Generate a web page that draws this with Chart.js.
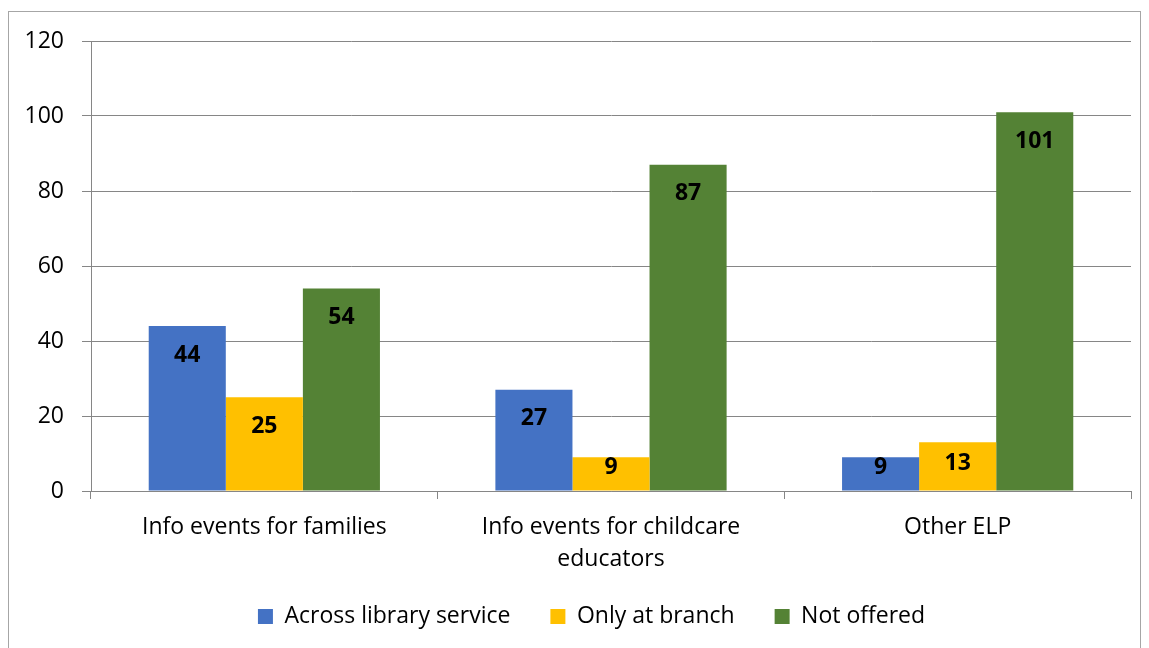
<!DOCTYPE html>
<html>
<head>
<meta charset="utf-8">
<script src="https://cdn.jsdelivr.net/npm/chart.js@4"></script>
<style>
  body { margin: 0; background: #fff; }
  #frame { position: absolute; left: 8px; top: 11px; width: 1133px; height: 660px; border: 1px solid #a6a6a6; box-sizing: border-box; }
  #wrap { position: absolute; left: 0; top: 0; width: 1149px; height: 648px; }
</style>
</head>
<body>
<div id="frame"></div>
<div id="wrap"><canvas id="myChart"></canvas></div>
<script>
const categories = ['Info events for families', ['Info events for childcare', 'educators'], 'Other ELP'];
const acrossLibrary = [44, 27, 9];
const onlyAtBranch = [25, 9, 13];
const notOffered = [54, 87, 101];
const yTicks = [0, 20, 40, 60, 80, 100, 120];

const FONT = '"Open Sans", Calibri, sans-serif';

// value labels sit just inside the top of each bar
const barLabels = {
  id: 'barLabels',
  afterDatasetsDraw(chart) {
    const ctx = chart.ctx;
    ctx.save();
    ctx.font = 'bold 23px ' + FONT;
    ctx.fillStyle = '#000';
    ctx.textAlign = 'center';
    ctx.textBaseline = 'middle';
    chart.data.datasets.forEach((ds, i) => {
      chart.getDatasetMeta(i).data.forEach((bar, j) => {
        const { x, y, base } = bar.getProps(['x', 'y', 'base'], true);
        const ty = Math.max(y + 10, Math.min(y + 29, base - 27));
        ctx.fillText(ds.data[j], x, ty);
      });
    });
    ctx.restore();
  }
};

// the legend's padding also sets the gap between items, so nudge the
// finished box up into the space under the two-line category label
const legendNudge = {
  id: 'legendNudge',
  afterLayout(chart) {
    const lg = chart.legend;
    lg.top -= 10; lg.bottom -= 10;
    lg.left += 26; lg.right += 26;
  }
};

new Chart(document.getElementById('myChart'), {
  type: 'bar',
  data: {
    labels: categories,
    datasets: [
      { label: 'Across library service', data: acrossLibrary, backgroundColor: '#4472c4', borderWidth: 0 },
      { label: 'Only at branch', data: onlyAtBranch, backgroundColor: '#ffc000', borderWidth: 0 },
      { label: 'Not offered', data: notOffered, backgroundColor: '#548235', borderWidth: 0 }
    ]
  },
  options: {
    responsive: true,
    maintainAspectRatio: false,
    animation: false,
    layout: { padding: { left: 0, top: 41, right: 18, bottom: 0 } },
    datasets: { bar: { categoryPercentage: 0.667, barPercentage: 1 } },
    scales: {
      x: {
        grid: { drawOnChartArea: false, drawTicks: true, tickLength: 8, color: '#868686' },
        border: { color: '#868686' },
        ticks: { color: '#000', font: { family: FONT, size: 23, lineHeight: 1.4 }, padding: 12, maxRotation: 0 },
        afterFit(scale) { scale.height = 84; }
      },
      y: {
        min: 0,
        max: 120,
        afterBuildTicks(scale) { scale.ticks = yTicks.map(v => ({ value: v })); },
        grid: { color: '#868686', tickLength: 9 },
        border: { color: '#868686' },
        ticks: { color: '#000', font: { family: FONT, size: 23 }, padding: 18 },
        afterFit(scale) { scale.width = 91; }
      }
    },
    plugins: {
      legend: {
        position: 'bottom',
        labels: { color: '#000', font: { family: FONT, size: 23 }, boxWidth: 15, boxHeight: 15, padding: 40 }
      },
      tooltip: { enabled: false }
    }
  },
  plugins: [barLabels, legendNudge]
});
</script>
</body>
</html>
